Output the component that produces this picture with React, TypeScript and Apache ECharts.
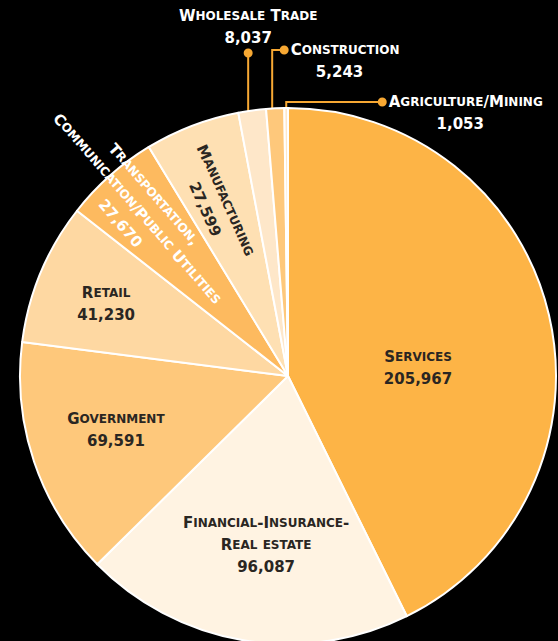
import React, { useEffect, useRef } from 'react';
import * as echarts from 'echarts';

// ---- data ----
const categories = [
  'Services',
  'Financial-Insurance-\nReal estate',
  'Government',
  'Retail',
  'Transportation,\nCommunication/Public Utilities',
  'Manufacturing',
  'Wholesale Trade',
  'Construction',
  'Agriculture/Mining',
];
const values = [205967, 96087, 69591, 41230, 27670, 27599, 8037, 5243, 1053];

// ---- styles ----
const sliceColors = ['#FDB446', '#FFF3E2', '#FEC87B', '#FED8A2', '#FDBA5F', '#FEE0B3', '#FEE7C9', '#FEC87B', '#FEE7C9'];
const LINE = '#F7A833';
const DARK = '#2A2622';
const WHITE = '#FFFFFF';
const FONT = 'DejaVu Sans';
const LH = 22;
const W = 558;
const H = 641;
const CX = 288;
const CY = 376;
const R = 268;

type Place = { kind: 'in' | 'above' | 'right'; frac: number; r: number; rot?: number; rise?: number; run?: number; white?: boolean };
const placement: Place[] = [
  { kind: 'in', frac: 0.563, r: 0.486 },
  { kind: 'in', frac: 0.47, r: 0.636 },
  { kind: 'in', frac: 0.524, r: 0.673 },
  { kind: 'in', frac: 0.464, r: 0.73 },
  { kind: 'in', frac: 0.476, r: 0.84, rot: -49, white: true },
  { kind: 'in', frac: 0.4, r: 0.694, rot: -66 },
  { kind: 'above', frac: 0.25, r: 0.93, rise: 55, run: 0, white: true },
  { kind: 'right', frac: 0.3, r: 0.96, rise: 58, run: 12, white: true },
  { kind: 'right', frac: 0.5, r: 0.96, rise: 6, run: 96, white: true },
];

const base = { fontFamily: FONT, fontWeight: 'bold' as const, lineHeight: LH, align: 'center' as const };
const rich: any = {
  db: { ...base, fontSize: 15, color: DARK },
  ds: { ...base, fontSize: 12, color: DARK },
  dn: { ...base, fontSize: 15, color: DARK },
  wb: { ...base, fontSize: 15, color: WHITE },
  ws: { ...base, fontSize: 12, color: WHITE },
  wn: { ...base, fontSize: 15, color: WHITE },
  dot: { width: 9, height: 9, borderRadius: 4.5, backgroundColor: LINE, lineHeight: 9, align: 'center' },
  gap: { width: 2, height: 9, lineHeight: 9, align: 'center' },
};

function smallCaps(text: string, p: string): string {
  return text
    .split('\n')
    .map((line) => {
      let out = '';
      let cur = '';
      let cls = '';
      for (const ch of line) {
        const c = /[a-z]/.test(ch) ? 's' : 'b';
        const t = c === 's' ? ch.toUpperCase() : ch;
        if (c !== cls && cur) {
          out += `{${p}${cls}|${cur}}`;
          cur = '';
        }
        cls = c;
        cur += t;
      }
      if (cur) out += `{${p}${cls}|${cur}}`;
      return out;
    })
    .join('\n');
}

const total = values.reduce((a, b) => a + b, 0);
const starts: number[] = [];
{
  let acc = 0;
  values.forEach((v) => {
    starts.push((acc / total) * 360);
    acc += v;
  });
}
const spans = values.map((v) => (v / total) * 360);

function pt(angDeg: number, rr: number): [number, number] {
  const a = (angDeg * Math.PI) / 180;
  return [CX + rr * Math.sin(a), CY - rr * Math.cos(a)];
}

function buildLabel(i: number): string {
  const pl = placement[i];
  const p = pl.white ? 'w' : 'd';
  const name = smallCaps(categories[i], p);
  const num = `{${p}n|${values[i].toLocaleString('en-US')}}`;
  if (pl.kind === 'above') return `${name}\n${num}\n{dot|}`;
  if (pl.kind === 'right') return `{dot|}{gap|}${name}\n${num}`;
  return `${name}\n${num}`;
}

export default function App() {
  const ref = useRef<HTMLDivElement>(null);
  useEffect(() => {
    if (!ref.current) return;
    const chart = echarts.init(ref.current, undefined, { renderer: 'svg' });
    chart.setOption({
      animation: false,
      backgroundColor: '#000000',
      series: [
        {
          type: 'pie',
          center: [CX, CY],
          radius: [0, R],
          startAngle: 90,
          clockwise: true,
          avoidLabelOverlap: false,
          silent: true,
          itemStyle: { borderColor: '#FFFFFF', borderWidth: 2 },
          label: { show: true, position: 'inside', rich, overflow: 'none' },
          labelLine: { show: false },
          labelLayout: (params: any) => {
            const i = params.dataIndex;
            const pl = placement[i];
            const ang = starts[i] + spans[i] * pl.frac;
            if (pl.kind === 'in') {
              const [x, y] = pt(ang, pl.r * R);
              return { x, y, align: 'center', verticalAlign: 'middle', rotate: pl.rot || 0 };
            }
            const anchor = pt(ang, pl.r * R);
            const dotY = CY - R - (pl.rise || 0);
            const dotX = anchor[0] + (pl.run || 0);
            const pts = [anchor, [anchor[0], dotY], [dotX, dotY]];
            if (pl.kind === 'above') {
              return { x: dotX, y: dotY + 4.5, align: 'center', verticalAlign: 'bottom', labelLinePoints: pts };
            }
            return { x: dotX - 4.5, y: dotY - LH / 2, align: 'left', verticalAlign: 'top', labelLinePoints: pts };
          },
          data: categories.map((name, i) => {
            const outside = placement[i].kind !== 'in';
            return {
              name,
              value: values[i],
              itemStyle: { color: sliceColors[i] },
              label: { position: outside ? 'outside' : 'inside', formatter: buildLabel(i) },
              labelLine: { show: outside, showAbove: true, smooth: false, lineStyle: { color: LINE, width: 2 } },
            };
          }),
        },
      ],
    });
    return () => chart.dispose();
  }, []);
  return <div ref={ref} style={{ position: 'absolute', left: 0, top: 0, width: W, height: H, background: '#000' }} />;
}
